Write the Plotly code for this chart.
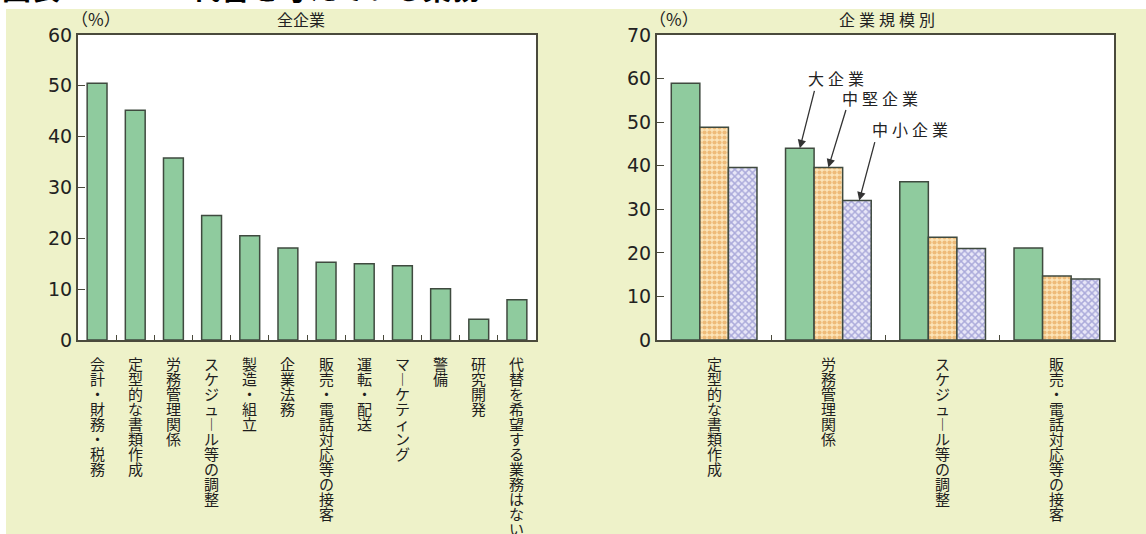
import plotly.graph_objects as go

# ---- data -------------------------------------------------------------
all_categories = [
    "会計・財務・税務", "定型的な書類作成", "労務管理関係", "スケジュール等の調整",
    "製造・組立", "企業法務", "販売・電話対応等の接客", "運転・配送",
    "マーケティング", "警備", "研究開発", "代替を希望する業務はない",
]
all_values = [50.5, 45.2, 35.8, 24.5, 20.5, 18.1, 15.3, 15.0, 14.6, 10.1, 4.1, 7.9]

size_categories = ["定型的な書類作成", "労務管理関係", "スケジュール等の調整", "販売・電話対応等の接客"]
size_names = ["大企業", "中堅企業", "中小企業"]
large_values = [58.9, 44.0, 36.3, 21.1]
mid_values = [48.8, 39.6, 23.6, 14.7]
small_values = [39.6, 32.0, 21.0, 14.0]

left_yticks = [0, 10, 20, 30, 40, 50, 60]
right_yticks = [0, 10, 20, 30, 40, 50, 60, 70]

# ---- layout constants -------------------------------------------------
W, H = 1146, 534
BG = "#EEF2C9"
EDGE = "#3F4A3F"
FRAME = "#4A4A3C"
FONT = "Noto Sans CJK JP"
LABEL_TOP = 352       # top of each vertical category label (px)
LABEL_PITCH = 15.0    # vertical advance per character (px)
LABEL_GLYPH = 15      # glyph size of the category labels (px)


def px_x(p):
    return p / W


def px_y(p):
    return 1 - p / H


def spaced(s, gap="\u2005"):
    return gap.join(s)


def vertical(s):
    # one character per line; the long vowel mark is drawn upright
    chars = ["︱" if c == "ー" else c for c in s]
    return "<br>".join(f'<span style="font-size:{LABEL_GLYPH}px">{c}</span>' for c in chars)


fig = go.Figure()

# left panel: all companies
fig.add_trace(go.Bar(
    x=all_categories, y=all_values, xaxis="x", yaxis="y",
    width=0.52, offset=-0.26,
    marker=dict(color="#8FCB9E", line=dict(color=EDGE, width=1.5)),
    showlegend=False, hoverinfo="x+y",
))

# right panel: by company size
styles = [
    dict(color="#8FCB9E"),
    dict(color="#FADDAA", pattern=dict(shape=".", fgcolor="#E0913A", bgcolor="#FCE4B8",
                                       size=5, solidity=0.55)),
    dict(color="#E4E3F6", pattern=dict(shape="x", fgcolor="#6E6EBE", bgcolor="#E8E7F7",
                                       size=5, solidity=0.5)),
]
for name, vals, st, off in zip(size_names, [large_values, mid_values, small_values],
                               styles, [-0.375, -0.125, 0.125]):
    fig.add_trace(go.Bar(
        x=size_categories, y=vals, name=name, xaxis="x2", yaxis="y2",
        width=0.25, offset=off,
        marker=dict(line=dict(color=EDGE, width=1.5), **st),
        showlegend=False, hoverinfo="name+x+y",
    ))

axis_common = dict(
    showline=True, mirror=True, linecolor=FRAME, linewidth=2,
    showgrid=False, zeroline=False,
)

tickfont_num = dict(family="DejaVu Sans", size=19, color="#222")

fig.update_layout(
    width=W, height=H,
    margin=dict(l=0, r=0, t=0, b=0),
    paper_bgcolor=BG, plot_bgcolor="white",
    barmode="overlay",
    xaxis=dict(domain=[px_x(78), px_x(536)], anchor="y", type="category",
               categoryorder="array", categoryarray=all_categories,
               tickson="boundaries", ticks="inside", ticklen=5, tickcolor=FRAME,
               showticklabels=False, automargin=False, **axis_common),
    yaxis=dict(domain=[px_y(340), px_y(35)], anchor="x", range=[0, 60],
               tickvals=left_yticks, ticks="inside", ticklen=7, tickcolor=FRAME,
               tickfont=tickfont_num, automargin=False, **axis_common),
    xaxis2=dict(domain=[px_x(657), px_x(1114)], anchor="y2", type="category",
                categoryorder="array", categoryarray=size_categories,
                tickson="boundaries", ticks="inside", ticklen=5, tickcolor=FRAME,
                showticklabels=False, automargin=False, **axis_common),
    yaxis2=dict(domain=[px_y(340), px_y(35)], anchor="x2", range=[0, 70],
                tickvals=right_yticks, ticks="inside", ticklen=7, tickcolor=FRAME,
                tickfont=tickfont_num, automargin=False, **axis_common),
)

# white strips along the top and left edges
fig.add_shape(type="rect", xref="paper", yref="paper", x0=0, x1=1, y0=px_y(9), y1=1.02,
              fillcolor="white", line_width=0, layer="below")
fig.add_shape(type="rect", xref="paper", yref="paper", x0=-0.01, x1=px_x(6), y0=-0.02, y1=1.02,
              fillcolor="white", line_width=0, layer="below")

annotations = []

# vertical category labels centred under each category
for xref, cats in [("x", all_categories), ("x2", size_categories)]:
    for cat in cats:
        annotations.append(dict(
            text=vertical(cat), xref=xref, yref="paper", x=cat, y=px_y(LABEL_TOP),
            xanchor="center", yanchor="top", align="center", showarrow=False,
            borderpad=0,
            # line advance is 1.3 x the base size
            font=dict(family=FONT, size=LABEL_PITCH / 1.3, color="#1E1E1E"),
        ))

# heading (top edge of the page)
annotations.append(dict(text="<b>図表</b>", xref="paper", yref="paper", x=0, y=px_y(10),
                        xanchor="left", yanchor="bottom", showarrow=False,
                        font=dict(family=FONT, size=29, color="black")))
annotations.append(dict(text="<b>代替を考えている業務</b>", xref="paper", yref="paper",
                        x=px_x(190), y=px_y(10), xanchor="left", yanchor="bottom",
                        showarrow=False, font=dict(family=FONT, size=29, color="black")))

# panel headings and unit labels
for txt, cx, size in [("（%）", 96, 17), ("全企業", 301, 16),
                      ("（%）", 674, 17), (spaced("企業規模別"), 887, 16)]:
    annotations.append(dict(text=txt, xref="paper", yref="paper", x=px_x(cx), y=px_y(19),
                            xanchor="center", yanchor="middle", showarrow=False,
                            font=dict(family=FONT, size=size, color="#222")))

# leader arrows into the second group of the size panel
arrow_specs = [
    # name, tip x (category index), tip y, tail dx, tail dy, label centre (px)
    (size_names[0], 0.75, large_values[1], 15, -59, (836, 78)),
    (size_names[1], 1.0, mid_values[1], 18, -59, (880, 98)),
    (size_names[2], 1.27, small_values[1], 16, -60, (910, 129)),
]
for name, tx, ty, dx, dy, (lx, ly) in arrow_specs:
    annotations.append(dict(text="", xref="x2", yref="y2", x=tx, y=ty,
                            ax=dx, ay=dy, axref="pixel", ayref="pixel",
                            showarrow=True, arrowhead=2, arrowsize=1.3, arrowwidth=1.3,
                            arrowcolor="#333"))
    annotations.append(dict(text=spaced(name), xref="paper", yref="paper",
                            x=px_x(lx), y=px_y(ly),
                            xanchor="center", yanchor="middle", showarrow=False,
                            font=dict(family=FONT, size=16, color="#222")))

fig.update_layout(annotations=annotations)

fig.write_html("out.html")
